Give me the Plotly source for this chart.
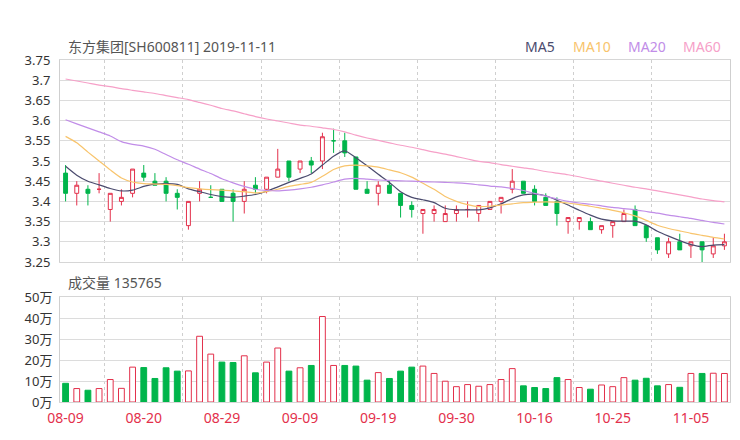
import plotly.graph_objects as go

# ---------------- data ----------------
dates = ["08-09", "08-12", "08-13", "08-14", "08-15", "08-16", "08-19", "08-20", "08-21", "08-22",
         "08-23", "08-26", "08-27", "08-28", "08-29", "08-30", "09-02", "09-03", "09-04", "09-05",
         "09-06", "09-09", "09-10", "09-11", "09-12", "09-16", "09-17", "09-18", "09-19", "09-20",
         "09-23", "09-24", "09-25", "09-26", "09-27", "09-30", "10-08", "10-09", "10-10", "10-11",
         "10-14", "10-15", "10-16", "10-17", "10-18", "10-21", "10-22", "10-23", "10-24", "10-25",
         "10-28", "10-29", "10-30", "10-31", "11-01", "11-04", "11-05", "11-06", "11-07", "11-08"]

opens = [3.47, 3.42, 3.43, 3.43, 3.38, 3.40, 3.42, 3.47, 3.45, 3.45,
         3.42, 3.34, 3.42, 3.41, 3.43, 3.42, 3.40, 3.44, 3.43, 3.46,
         3.50, 3.48, 3.50, 3.50, 3.55, 3.55, 3.51, 3.43, 3.42, 3.44,
         3.42, 3.39, 3.37, 3.37, 3.35, 3.37, 3.38, 3.37, 3.38, 3.40,
         3.43, 3.45, 3.43, 3.41, 3.40, 3.35, 3.35, 3.35, 3.33, 3.34,
         3.35, 3.38, 3.34, 3.31, 3.27, 3.30, 3.29, 3.30, 3.27, 3.29]
closes = [3.42, 3.44, 3.42, 3.43, 3.42, 3.41, 3.48, 3.46, 3.44, 3.42,
          3.41, 3.40, 3.43, 3.41, 3.40, 3.40, 3.43, 3.43, 3.46, 3.48,
          3.46, 3.50, 3.49, 3.56, 3.55, 3.52, 3.43, 3.42, 3.44, 3.42,
          3.39, 3.38, 3.38, 3.38, 3.37, 3.38, 3.38, 3.39, 3.40, 3.41,
          3.45, 3.42, 3.40, 3.39, 3.37, 3.36, 3.36, 3.33, 3.34, 3.35,
          3.37, 3.34, 3.31, 3.28, 3.30, 3.28, 3.30, 3.28, 3.29, 3.30]
highs = [3.49, 3.45, 3.44, 3.47, 3.42, 3.43, 3.48, 3.49, 3.47, 3.46,
         3.43, 3.40, 3.45, 3.44, 3.43, 3.43, 3.45, 3.46, 3.46, 3.53,
         3.50, 3.50, 3.51, 3.57, 3.58, 3.57, 3.51, 3.45, 3.45, 3.45,
         3.42, 3.40, 3.38, 3.39, 3.39, 3.39, 3.40, 3.39, 3.40, 3.41,
         3.48, 3.45, 3.44, 3.42, 3.41, 3.36, 3.36, 3.36, 3.34, 3.35,
         3.38, 3.39, 3.34, 3.31, 3.31, 3.32, 3.30, 3.30, 3.31, 3.32]
lows = [3.40, 3.39, 3.39, 3.42, 3.35, 3.39, 3.41, 3.45, 3.44, 3.40,
        3.38, 3.33, 3.40, 3.41, 3.40, 3.35, 3.37, 3.42, 3.42, 3.46,
        3.45, 3.47, 3.47, 3.48, 3.52, 3.51, 3.43, 3.42, 3.39, 3.42,
        3.36, 3.36, 3.32, 3.35, 3.35, 3.35, 3.36, 3.35, 3.38, 3.37,
        3.42, 3.42, 3.39, 3.39, 3.34, 3.32, 3.33, 3.33, 3.32, 3.31,
        3.35, 3.34, 3.30, 3.27, 3.26, 3.28, 3.26, 3.25, 3.26, 3.28]

ma5 = [3.487, 3.465, 3.450, 3.441, 3.432, 3.426, 3.428, 3.437, 3.443, 3.444,
       3.442, 3.431, 3.424, 3.417, 3.412, 3.410, 3.413, 3.417, 3.425, 3.436,
       3.447, 3.457, 3.468, 3.490, 3.512, 3.525, 3.508, 3.488, 3.467, 3.447,
       3.424, 3.410, 3.404, 3.397, 3.383, 3.379, 3.379, 3.379, 3.384, 3.394,
       3.407, 3.416, 3.418, 3.414, 3.403, 3.391, 3.378, 3.366, 3.356, 3.352,
       3.351, 3.351, 3.342, 3.326, 3.314, 3.303, 3.293, 3.288, 3.292, 3.293]
ma10 = [3.561, 3.545, 3.522, 3.500, 3.478, 3.458, 3.448, 3.444, 3.443, 3.442,
        3.439, 3.434, 3.431, 3.429, 3.428, 3.426, 3.424, 3.421, 3.424, 3.430,
        3.437, 3.442, 3.447, 3.462, 3.479, 3.488, 3.490, 3.488, 3.485, 3.478,
        3.471, 3.460, 3.445, 3.430, 3.412, 3.400, 3.392, 3.387, 3.388, 3.391,
        3.394, 3.397, 3.398, 3.399, 3.398, 3.396, 3.392, 3.388, 3.383, 3.378,
        3.372, 3.364, 3.353, 3.341, 3.333, 3.327, 3.321, 3.316, 3.311, 3.307]
ma20 = [3.602, 3.592, 3.582, 3.572, 3.562, 3.548, 3.541, 3.537, 3.529, 3.516,
        3.503, 3.492, 3.480, 3.469, 3.456, 3.446, 3.437, 3.430, 3.427, 3.426,
        3.428, 3.431, 3.435, 3.441, 3.448, 3.455, 3.457, 3.455, 3.453, 3.452,
        3.451, 3.450, 3.449, 3.448, 3.447, 3.446, 3.444, 3.441, 3.438, 3.436,
        3.432, 3.427, 3.420, 3.413, 3.406, 3.400, 3.396, 3.393, 3.389, 3.385,
        3.382, 3.379, 3.375, 3.371, 3.366, 3.362, 3.358, 3.353, 3.348, 3.344]
ma60 = [3.703, 3.698, 3.693, 3.688, 3.684, 3.679, 3.675, 3.671, 3.667, 3.662,
        3.657, 3.652, 3.645, 3.638, 3.630, 3.624, 3.617, 3.610, 3.604, 3.599,
        3.594, 3.589, 3.586, 3.582, 3.578, 3.572, 3.564, 3.557, 3.551, 3.545,
        3.539, 3.534, 3.528, 3.522, 3.517, 3.511, 3.505, 3.499, 3.496, 3.491,
        3.487, 3.483, 3.479, 3.474, 3.470, 3.466, 3.461, 3.455, 3.450, 3.445,
        3.440, 3.435, 3.431, 3.426, 3.421, 3.416, 3.411, 3.406, 3.402, 3.399]

volumes = [89000, 64000, 56000, 64000, 107000, 65000, 166000, 164000, 112000, 163000,
           147000, 148000, 313000, 228000, 190000, 188000, 220000, 139000, 190000, 257000,
           147000, 163000, 174000, 407000, 174000, 174000, 171000, 104000, 140000, 112000,
           147000, 166000, 171000, 136000, 99000, 73000, 83000, 75000, 83000, 107000,
           159000, 77000, 69000, 64000, 116000, 107000, 69000, 61000, 81000, 73000,
           116000, 104000, 113000, 77000, 83000, 70000, 136000, 136000, 137000, 135765]

price_ticks = [3.25, 3.3, 3.35, 3.4, 3.45, 3.5, 3.55, 3.6, 3.65, 3.7, 3.75]
vol_ticks = [0, 100000, 200000, 300000, 400000, 500000]
vol_tick_text = ["0万", "10万", "20万", "30万", "40万", "50万"]
label_every = 7

ma_series = [("MA5", ma5, "#4b4b6e"), ("MA10", ma10, "#f8c46c"),
             ("MA20", ma20, "#c18de8"), ("MA60", ma60, "#f6a0c8")]

title_text = "东方集团[SH600811] 2019-11-11"

# ---------------- styling ----------------
RED = "#e3304b"
GREEN = "#00b54b"
OFF = 8                 # page body margin
W, H = 740 - OFF, 440 - OFF
X0, X1 = 60, 730        # plot edges in window pixels


def px_x(p):
    return (p - OFF) / W


def px_y(p):
    return 1 - (p - OFF) / H


x = list(range(len(dates)))
n = len(dates)
major_vals = list(range(0, n, label_every))
minor_vals = [v + label_every / 2 for v in major_vals if v + label_every / 2 < n - 1]

fig = go.Figure()

fig.add_trace(go.Candlestick(
    x=x, open=opens, high=highs, low=lows, close=closes,
    increasing=dict(line=dict(color=RED, width=1), fillcolor="white"),
    decreasing=dict(line=dict(color=GREEN, width=1), fillcolor=GREEN),
    whiskerwidth=0, xaxis="x", yaxis="y", showlegend=False, hoverinfo="skip"))

for name, vals, col in ma_series:
    fig.add_trace(go.Scatter(x=x, y=vals, mode="lines", name=name,
                             line=dict(color=col, width=1.2, shape="spline", smoothing=0.6),
                             xaxis="x", yaxis="y", showlegend=False, hoverinfo="skip"))

up = [c >= o for o, c in zip(opens, closes)]
fig.add_trace(go.Bar(
    x=x, y=volumes, width=0.52,
    marker=dict(color=["white" if u else GREEN for u in up],
                line=dict(color=[RED if u else GREEN for u in up], width=1)),
    xaxis="x2", yaxis="y2", showlegend=False, hoverinfo="skip"))

xdom = [px_x(X0), px_x(X1)]
common_x = dict(range=[-0.5, n - 0.5], domain=xdom, showgrid=False, zeroline=False,
                showline=True, mirror=True, linecolor="#d6d6d6", linewidth=1,
                automargin=False,
                minor=dict(tickvals=minor_vals, showgrid=True, gridcolor="#cfcfcf",
                           griddash="dot", gridwidth=1, ticks=""))

fig.update_layout(
    width=W, height=H, template="none",
    margin=dict(l=0, r=0, t=0, b=0),
    paper_bgcolor="white", plot_bgcolor="white",
    font=dict(family="Noto Sans, Noto Sans CJK SC, sans-serif", size=12, color="#333333"),
    boxgap=0.5,
    xaxis=dict(common_x, anchor="y", showticklabels=False, ticks="",
               rangeslider=dict(visible=False)),
    xaxis2=dict(common_x, anchor="y2", tickmode="array", tickvals=major_vals,
                ticktext=[dates[i] for i in major_vals],
                tickfont=dict(color=RED, size=14), ticks="outside", ticklen=3,
                tickcolor="rgba(0,0,0,0)"),
    yaxis=dict(domain=[px_y(262), px_y(60)], range=[price_ticks[0], price_ticks[-1]],
               tickmode="array", tickvals=price_ticks,
               ticktext=[f"{v:g}" for v in price_ticks],
               showgrid=True, gridcolor="#dcdcdc", gridwidth=1, zeroline=False,
               showline=True, mirror=True, linecolor="#cfcfcf",
               ticks="outside", ticklen=6, tickcolor="rgba(0,0,0,0)",
               tickfont=dict(size=13, color="#333333"), automargin=False),
    yaxis2=dict(domain=[px_y(402), px_y(297)], range=[vol_ticks[0], vol_ticks[-1]],
                tickmode="array", tickvals=vol_ticks, ticktext=vol_tick_text,
                showgrid=True, gridcolor="#dcdcdc", gridwidth=1, zeroline=False,
                showline=True, mirror=True, linecolor="#cfcfcf",
                ticks="outside", ticklen=4, tickcolor="rgba(0,0,0,0)",
                tickfont=dict(size=13, color="#333333"), automargin=False),
)

annotations = [
    dict(text=title_text, x=px_x(66), y=px_y(46), xref="paper", yref="paper",
         xanchor="left", yanchor="middle", showarrow=False,
         font=dict(size=14, color="#555555")),
    dict(text=f"成交量 {volumes[-1]}", x=px_x(66), y=px_y(282), xref="paper", yref="paper",
         xanchor="left", yanchor="middle", showarrow=False,
         font=dict(size=14, color="#555555")),
]
legend_x = [540, 592, 647, 702]
for (name, _, col), lx in zip(ma_series, legend_x):
    annotations.append(dict(text=name, x=px_x(lx), y=px_y(46), xref="paper", yref="paper",
                            xanchor="center", yanchor="middle", showarrow=False,
                            font=dict(size=14, color=col)))
fig.update_layout(annotations=annotations)

fig.write_html("out.html")
